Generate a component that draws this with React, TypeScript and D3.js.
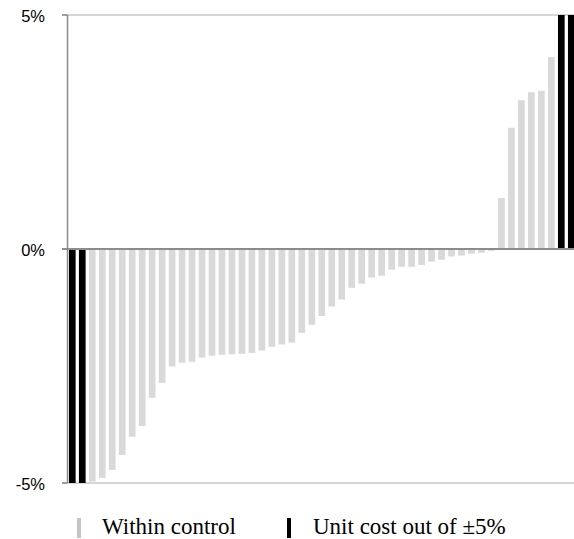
import React from "react";
import * as d3 from "d3";

const categories: number[] = d3.range(51);
const values: number[] = [
  -5.8, -5.6, -4.97, -4.89, -4.72, -4.4, -4.01, -3.78, -3.18, -2.86,
  -2.51, -2.43, -2.41, -2.32, -2.28, -2.26, -2.25, -2.24, -2.22, -2.17,
  -2.09, -2.04, -2.0, -1.79, -1.62, -1.43, -1.23, -1.08, -0.83, -0.74,
  -0.61, -0.57, -0.44, -0.38, -0.38, -0.34, -0.27, -0.23, -0.16, -0.14,
  -0.1, -0.08, -0.04, 1.09, 2.59, 3.18, 3.35, 3.38, 4.1, 5.6, 5.8,
];
const tickValues: number[] = [5, 0, -5];
const tickLabels: string[] = ["5%", "0%", "-5%"];
const legendLabels: string[] = ["Within control", "Unit cost out of \u00b15%"];

const W = 574;
const H = 539;
const LIMIT = 5;

export default function App() {
  const x = d3
    .scaleBand<number>()
    .domain(categories)
    .range([67.3, 67.3 + 51 * 9.98])
    .paddingInner(0.33)
    .paddingOuter(0.165);
  const y = d3.scaleLinear().domain([-5, 5]).range([483, 15]).clamp(true);
  const left = 67.5;
  const right = W;

  return (
    <svg
      width={W}
      height={H}
      style={{ position: "absolute", left: 0, top: 0, background: "#fff" }}
    >
      <rect x={0} y={0} width={W} height={H} fill="#fff" />
      {/* top and bottom lines */}
      <line x1={62} x2={right} y1={y(5)} y2={y(5)} stroke="#c8c8c8" strokeWidth={1.5} />
      <line x1={62} x2={right} y1={y(-5)} y2={y(-5)} stroke="#c8c8c8" strokeWidth={1.5} />
      {/* bars */}
      {categories.map((c, i) => {
        const v = values[i];
        const out = Math.abs(v) > LIMIT;
        const y0 = y(0);
        const y1 = y(v);
        return (
          <rect
            key={c}
            x={x(c)}
            width={x.bandwidth()}
            y={Math.min(y0, y1)}
            height={Math.abs(y1 - y0)}
            fill={out ? "#000" : "#d9d9d9"}
          />
        );
      })}
      {/* zero line */}
      <line x1={62} x2={right} y1={y(0)} y2={y(0)} stroke="#8c8c8c" strokeWidth={2} />
      {/* left axis */}
      <line x1={left} x2={left} y1={y(5)} y2={y(-5)} stroke="#8c8c8c" strokeWidth={1.5} />
      {tickValues.map((t, i) => (
        <g key={t}>
          <line x1={62} x2={left} y1={y(t)} y2={y(t)} stroke="#8c8c8c" strokeWidth={1.5} />
          <text
            x={45}
            y={y(t) + 1}
            textAnchor="end"
            dominantBaseline="central"
            fontFamily="'Liberation Sans', Arial, sans-serif"
            fontSize={16.5}
            fill="#000"
          >
            {tickLabels[i]}
          </text>
        </g>
      ))}
      {/* legend */}
      <rect x={77} y={518} width={4} height={20} fill="#c4c4c4" />
      <text
        x={102}
        y={533.5}
        fontFamily="'Liberation Serif', 'Times New Roman', serif"
        fontSize={23}
        fill="#000"
      >
        {legendLabels[0]}
      </text>
      <rect x={287} y={518} width={4} height={20} fill="#000" />
      <text
        x={313}
        y={533.5}
        fontFamily="'Liberation Serif', 'Times New Roman', serif"
        fontSize={23}
        fill="#000"
      >
        {legendLabels[1]}
      </text>
    </svg>
  );
}
